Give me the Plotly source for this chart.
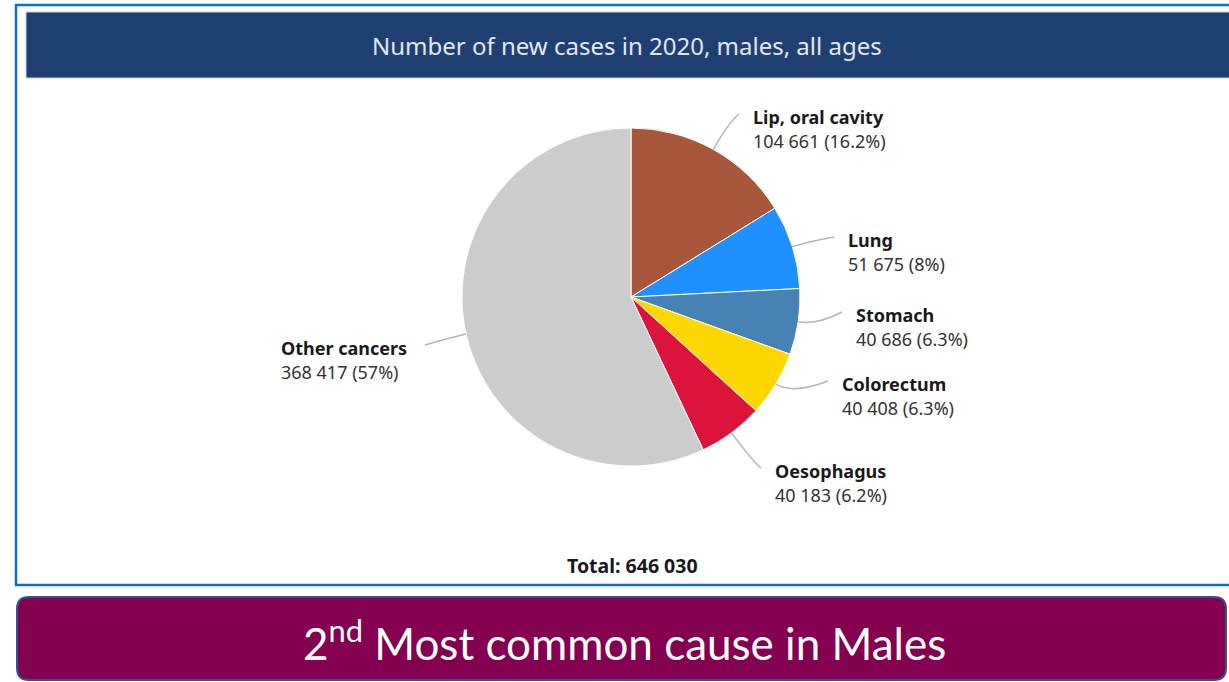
import math
import plotly.graph_objects as go

W, H = 1229, 682

# ---- data -------------------------------------------------------------
sites = ["Lip, oral cavity", "Lung", "Stomach", "Colorectum", "Oesophagus", "Other cancers"]
new_cases = [104661, 51675, 40686, 40408, 40183, 368417]
slice_colors = ["#A9573C", "#1E90FF", "#4682B4", "#FFD700", "#DC143C", "#CCCCCC"]

title_text = "Number of new cases in 2020, males, all ages"
banner_text = "2<sup>nd</sup> Most common cause in Males"

# ---- layout helpers (pixel positions, y measured from the top) ---------
CX, CY, R = 631, 297, 169
# left edge and first-line centre of each label block
label_pos = [(751, 117), (846, 240), (854, 315), (840, 384), (773, 471), (279, 348)]
# where each leader line meets its label
leader_end = [(739, 114), (834, 237), (842, 312), (828, 381), (761, 468), (425, 345)]
leader_bend = [30, 20, 20, 20, 35, 15]

FONT = "Noto Sans"


def px(x):
    return x / W


def py(y):
    return 1 - y / H


def fmt_int(v):
    return f"{v:,}".replace(",", " ")


def fmt_pct(v, tot):
    s = f"{round(v / tot * 100, 1):.1f}"
    return s.rstrip("0").rstrip(".")


total = sum(new_cases)

fig = go.Figure()
fig.add_trace(go.Pie(
    labels=sites,
    values=new_cases,
    sort=False,
    direction="clockwise",
    rotation=0,
    marker=dict(colors=slice_colors, line=dict(color="white", width=1)),
    textinfo="none",
    hoverinfo="label+value+percent",
    domain=dict(x=[px(CX - R), px(CX + R)], y=[py(CY + R), py(CY - R)]),
))

shapes = []
annotations = []

# outer frame and header bar
shapes.append(dict(type="rect", xref="paper", yref="paper",
                   x0=px(16), x1=px(1245), y0=py(5), y1=py(585),
                   line=dict(color="#0A70C8", width=2.5), fillcolor="rgba(0,0,0,0)"))
shapes.append(dict(type="rect", xref="paper", yref="paper",
                   x0=px(26), x1=px(1245), y0=py(12), y1=py(78),
                   line=dict(color="#C8D0DC", width=1), fillcolor="#1F4172"))

# rounded banner at the bottom
bx0, bx1, by0, by1, rr = 17, 1226, 597, 680, 12
banner_path = (
    f"M {px(bx0 + rr)} {py(by0)} L {px(bx1 - rr)} {py(by0)} "
    f"Q {px(bx1)} {py(by0)} {px(bx1)} {py(by0 + rr)} "
    f"L {px(bx1)} {py(by1 - rr)} Q {px(bx1)} {py(by1)} {px(bx1 - rr)} {py(by1)} "
    f"L {px(bx0 + rr)} {py(by1)} Q {px(bx0)} {py(by1)} {px(bx0)} {py(by1 - rr)} "
    f"L {px(bx0)} {py(by0 + rr)} Q {px(bx0)} {py(by0)} {px(bx0 + rr)} {py(by0)} Z"
)
shapes.append(dict(type="path", xref="paper", yref="paper", path=banner_path,
                   line=dict(color="#3D4F8A", width=2), fillcolor="#840050"))

# slice labels with leader lines
cum = 0
for name, v, (lx, ly), (ex, ey), bend in zip(sites, new_cases, label_pos,
                                              leader_end, leader_bend):
    theta = 2 * math.pi * (cum + v / 2) / total
    cum += v
    dx, dy = math.sin(theta), -math.cos(theta)
    x0, y0 = CX + R * dx, CY + R * dy
    cxp, cyp = x0 + bend * dx, y0 + bend * dy
    shapes.append(dict(
        type="path", xref="paper", yref="paper",
        path=f"M {px(x0)} {py(y0)} Q {px(cxp)} {py(cyp)} {px(ex)} {py(ey)}",
        line=dict(color="#B5B5B5", width=1.5)))
    annotations.append(dict(
        x=px(lx), y=py(ly), xref="paper", yref="paper", showarrow=False,
        xanchor="left", yanchor="middle", text=f"<b>{name}</b>",
        font=dict(family=FONT, size=18, color="#1A1A1A")))
    annotations.append(dict(
        x=px(lx), y=py(ly + 24), xref="paper", yref="paper", showarrow=False,
        xanchor="left", yanchor="middle",
        text=f"{fmt_int(v)} ({fmt_pct(v, total)}%)",
        font=dict(family=FONT, size=18, color="#333333")))

# header title, total and banner text
annotations.append(dict(x=px(627), y=py(46), xref="paper", yref="paper", showarrow=False,
                        xanchor="center", yanchor="middle", text=title_text,
                        font=dict(family=FONT, size=24, color="#E2E7EF")))
annotations.append(dict(x=px(632), y=py(565), xref="paper", yref="paper", showarrow=False,
                        xanchor="center", yanchor="middle",
                        text=f"<b>Total: {fmt_int(total)}</b>",
                        font=dict(family=FONT, size=19.5, color="#1A1A1A")))
annotations.append(dict(x=px(624), y=py(640), xref="paper", yref="paper", showarrow=False,
                        xanchor="center", yanchor="middle", text=banner_text,
                        font=dict(family="Lato", size=44, color="white")))

fig.update_layout(
    width=W, height=H,
    margin=dict(l=0, r=0, t=0, b=0),
    paper_bgcolor="white",
    plot_bgcolor="white",
    showlegend=False,
    shapes=shapes,
    annotations=annotations,
)

fig.write_html("out.html", config=dict(displayModeBar=False))
